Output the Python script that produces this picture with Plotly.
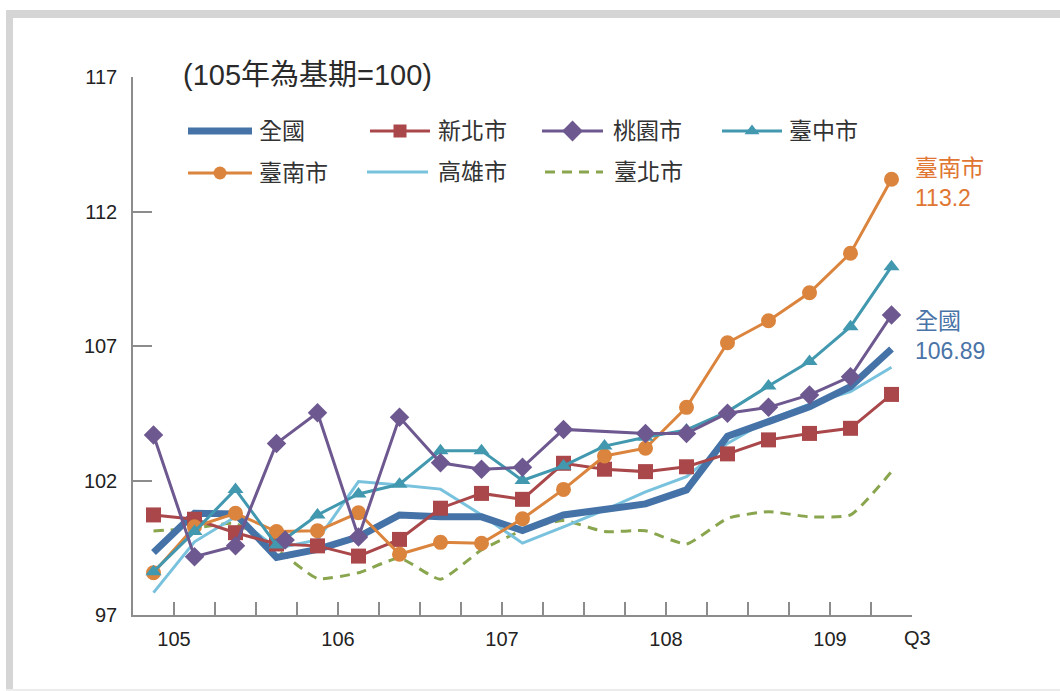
import plotly.graph_objects as go

# ---- data: house price index by quarter, 105Q1 .. 109Q3 (105 = 100) ----
quarters = ["105Q1", "105Q2", "105Q3", "105Q4",
            "106Q1", "106Q2", "106Q3", "106Q4",
            "107Q1", "107Q2", "107Q3", "107Q4",
            "108Q1", "108Q2", "108Q3", "108Q4",
            "109Q1", "109Q2", "109Q3"]
year_labels = ["105", "106", "107", "108", "109"]
year_label_pos = [0.5, 4.5, 8.5, 12.5, 16.5]
last_label = "Q3"

national = [99.32, 100.78, 100.76, 99.14, 99.44, 99.91, 100.72, 100.65, 100.65, 100.14,
            100.72, 100.90, 101.13, 101.65, 103.65, 104.19, 104.74, 105.49, 106.89]
new_taipei = [100.72, 100.56, 100.06, 99.64, 99.57, 99.19, 99.81, 100.97, 101.52, 101.30,
              102.64, 102.42, 102.33, 102.51, 102.99, 103.51, 103.75, 103.94, 105.20]
taoyuan = [103.69, 99.17, 99.57, 103.38, 104.52, 99.90, 104.35, 102.66, 102.42, 102.49,
           103.90, 103.83, 103.75, 103.75, 104.50, 104.72, 105.18, 105.86, 108.15]
taichung = [98.61, 100.10, 101.67, 99.60, 100.72, 101.50, 101.86, 103.11, 103.11, 102.00,
            102.54, 103.28, 103.61, 103.88, 104.56, 105.51, 106.42, 107.72, 109.95]
tainan = [98.57, 100.28, 100.78, 100.10, 100.13, 100.80, 99.26, 99.70, 99.67, 100.58,
          101.67, 102.91, 103.20, 104.72, 107.12, 107.94, 108.98, 110.45, 113.2]
kaohsiung = [97.83, 99.72, 100.65, 99.48, 99.79, 101.96, 101.83, 101.68, 100.72, 99.67,
             100.28, 100.90, 101.58, 102.14, 103.38, 104.25, 104.84, 105.30, 106.21]
taipei = [100.12, 100.23, 100.40, 99.45, 98.36, 98.57, 99.11, 98.33, 99.42, 100.14,
          100.51, 100.10, 100.13, 99.64, 100.59, 100.84, 100.65, 100.72, 102.33]

# 桃園市 quarter drawn without a marker, and a loose marker just right of 105Q4
taoyuan_no_marker = [11]
taoyuan_loose_x = [3.21]
taoyuan_loose_y = [99.79]

y_ticks = [97, 102, 107, 112, 117]

# ---- figure geometry (pixels) ----
W, H = 1060, 691
ML, MR, MT, MB = 133, 148, 77, 76
PW, PH = W - ML - MR, H - MT - MB


def px(x):
    return (x - ML) / PW


def py(y):
    return (H - MB - y) / PH


FONT = "Liberation Sans, Arial, Noto Sans CJK TC, sans-serif"
BLUE, RED, PURPLE = "#4572A7", "#A9474A", "#6E5890"
TEAL, ORANGE, LIGHT, GREEN = "#4198AF", "#DB843D", "#78C2DE", "#89A54E"
AXIS = "#8C8C8C"

xs = list(range(len(quarters)))
fig = go.Figure()

# drawing order: dashed Taipei at the back, markers of the cities on top
fig.add_trace(go.Scatter(x=xs, y=taipei, mode="lines", name="臺北市",
                         line=dict(color=GREEN, width=3, dash="10px,7px",
                                   shape="spline", smoothing=0.5)))
fig.add_trace(go.Scatter(x=xs, y=kaohsiung, mode="lines", name="高雄市",
                         line=dict(color=LIGHT, width=3)))
fig.add_trace(go.Scatter(x=xs, y=national, mode="lines", name="全國",
                         line=dict(color=BLUE, width=7)))
fig.add_trace(go.Scatter(x=xs, y=new_taipei, mode="lines+markers", name="新北市",
                         line=dict(color=RED, width=3),
                         marker=dict(symbol="square", size=15, color=RED)))
fig.add_trace(go.Scatter(x=xs, y=tainan, mode="lines+markers", name="臺南市",
                         line=dict(color=ORANGE, width=3),
                         marker=dict(symbol="circle", size=15, color=ORANGE)))
fig.add_trace(go.Scatter(x=xs, y=taichung, mode="lines+markers", name="臺中市",
                         line=dict(color=TEAL, width=3),
                         marker=dict(symbol="triangle-up", size=14, color=TEAL)))
fig.add_trace(go.Scatter(x=xs, y=taoyuan, mode="lines", name="桃園市",
                         line=dict(color=PURPLE, width=3)))
marker_x = [x for x in xs if x not in taoyuan_no_marker] + taoyuan_loose_x
marker_y = [taoyuan[x] for x in xs if x not in taoyuan_no_marker] + taoyuan_loose_y
fig.add_trace(go.Scatter(x=marker_x, y=marker_y, mode="markers", name="桃園市",
                         marker=dict(symbol="diamond", size=15, color=PURPLE,
                                     opacity=1, line=dict(width=0))))

# ---- hand-built legend (paper coordinates on an overlay axis) ----
legend_rows = [
    # name, colour, width, dash, marker, marker size, line x0, x1, y, text x
    ("全國", BLUE, 7, "solid", None, 0, 188, 252, 131, 257),
    ("新北市", RED, 3, "solid", "square", 13, 370, 430, 131, 436),
    ("桃園市", PURPLE, 3, "solid", "diamond", 16, 542, 603, 131, 611),
    ("臺中市", TEAL, 3, "solid", "triangle-up", 13, 722, 782, 131, 787),
    ("臺南市", ORANGE, 3, "solid", "circle", 13, 188, 252, 173, 257),
    ("高雄市", LIGHT, 3, "solid", None, 0, 367, 428, 172, 436),
    ("臺北市", GREEN, 3, "10px,7px", None, 0, 545, 603, 172, 612),
]
annotations = []
for name, col, w, dash, sym, msz, x0, x1, yy, tx in legend_rows:
    fig.add_trace(go.Scatter(x=[px(x0), px(x1)], y=[py(yy), py(yy)], mode="lines",
                             xaxis="x2", yaxis="y2", cliponaxis=False,
                             line=dict(color=col, width=w, dash=dash)))
    if sym:
        fig.add_trace(go.Scatter(x=[px((x0 + x1) / 2)], y=[py(yy)], mode="markers",
                                 xaxis="x2", yaxis="y2", cliponaxis=False,
                                 marker=dict(symbol=sym, size=msz, color=col)))
    annotations.append(dict(text=name, xref="paper", yref="paper", x=px(tx), y=py(yy),
                            xanchor="left", yanchor="middle", showarrow=False,
                            font=dict(family=FONT, size=23, color="#333333")))

# base-period note
annotations.append(dict(text="(105年為基期=100)", xref="paper", yref="paper",
                        x=px(181), y=py(75), xanchor="left", yanchor="middle",
                        showarrow=False,
                        font=dict(family=FONT, size=29, color="#2a2a2a")))

# end-of-line value labels
annotations.append(dict(text=f"臺南市<br>{tainan[-1]}", xref="paper", yref="y",
                        x=px(913), y=tainan[-1], yshift=-4, xanchor="left",
                        yanchor="middle", align="left", showarrow=False,
                        font=dict(family=FONT, size=23, color="#E07632")))
annotations.append(dict(text=f"全國<br>{national[-1]}", xref="paper", yref="y",
                        x=px(913), y=national[-1], yshift=13, xanchor="left",
                        yanchor="middle", align="left", showarrow=False,
                        font=dict(family=FONT, size=23, color="#4A74A8")))

# final-quarter label at the right end of the axis
annotations.append(dict(text=last_label, xref="paper", yref="paper", x=px(917), y=py(638),
                        xanchor="center", yanchor="middle", showarrow=False,
                        font=dict(family=FONT, size=20, color="#222222")))

# light grey frame
FRAME = "#D5D5D5"
shapes = [
    dict(type="rect", xref="paper", yref="paper", x0=px(6), x1=px(1060),
         y0=py(18), y1=py(10), fillcolor=FRAME, line=dict(width=0), layer="below"),
    dict(type="rect", xref="paper", yref="paper", x0=px(6), x1=px(13),
         y0=py(689), y1=py(10), fillcolor=FRAME, line=dict(width=0), layer="below"),
    dict(type="rect", xref="paper", yref="paper", x0=px(6), x1=px(1060),
         y0=py(691), y1=py(689), fillcolor="#ECECEC", line=dict(width=0), layer="below"),
]

fig.update_layout(
    width=W, height=H,
    margin=dict(l=ML, r=MR, t=MT, b=MB, pad=0),
    paper_bgcolor="white", plot_bgcolor="white",
    showlegend=False,
    font=dict(family=FONT, size=20, color="#222222"),
    xaxis=dict(range=[-0.5, len(xs) - 0.5], showgrid=False, zeroline=False,
               showline=True, linecolor=AXIS, linewidth=1.5,
               tickmode="array", tickvals=year_label_pos, ticktext=year_labels,
               ticks="inside", ticklen=13, tickcolor=AXIS, tickwidth=1.5,
               ticklabelstandoff=5,
               minor=dict(tick0=-0.5, dtick=1, ticks="inside", ticklen=13,
                          tickcolor=AXIS, tickwidth=1.5),
               tickfont=dict(family=FONT, size=20, color="#222222")),
    yaxis=dict(range=[97, 117], showgrid=False, zeroline=False,
               showline=True, linecolor=AXIS, linewidth=1.5,
               tickmode="array", tickvals=y_ticks,
               ticks="inside", ticklen=19, tickcolor=AXIS, tickwidth=1.5,
               ticklabelstandoff=10,
               tickfont=dict(family=FONT, size=20, color="#222222")),
    xaxis2=dict(overlaying="x", range=[0, 1], visible=False, fixedrange=True),
    yaxis2=dict(overlaying="y", range=[0, 1], visible=False, fixedrange=True),
    annotations=annotations,
    shapes=shapes,
)

fig.write_html("out.html")
